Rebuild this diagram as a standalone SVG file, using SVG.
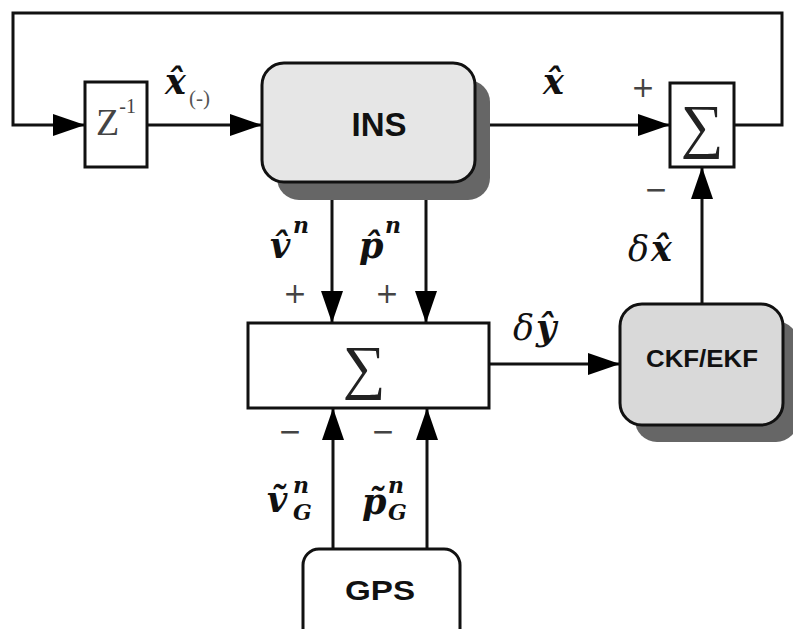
<svg xmlns="http://www.w3.org/2000/svg" width="793" height="629" viewBox="0 0 793 629">
<defs>
<marker id="arr" markerUnits="userSpaceOnUse" markerWidth="34" markerHeight="24" refX="32" refY="11" orient="auto">
<path d="M0,0 L32,11 L0,22 z" fill="#000"/>
</marker>
<style>
.ln{fill:none;stroke:#111;stroke-width:3}
.bx{stroke:#111;stroke-width:3}
.lbl{font-family:"Liberation Sans",Arial,sans-serif;font-weight:bold;fill:#111;text-anchor:middle}
.sig{font-family:"Liberation Serif","DejaVu Serif",serif;fill:#222;text-anchor:middle}
.m{font-family:"DejaVu Serif",serif;font-style:italic;font-weight:bold;fill:#111}
.d{font-family:"DejaVu Serif",serif;font-style:italic;font-weight:normal;fill:#111}
.r{font-family:"Liberation Serif","DejaVu Serif",serif;font-style:normal;font-weight:normal;fill:#555}
.pm{font-family:"DejaVu Sans",sans-serif;fill:#444;text-anchor:middle;font-size:28px}
</style>
</defs>
<rect width="793" height="629" fill="#fff"/>
<g id="connectors">
<path class="ln" d="M734,125 H782 V13 H13 V125 H85" marker-end="url(#arr)"/>
<path class="ln" d="M147,125 H262" marker-end="url(#arr)"/>
<path class="ln" d="M475,125 H670" marker-end="url(#arr)"/>
<path class="ln" d="M332,182 V323" marker-end="url(#arr)"/>
<path class="ln" d="M426,182 V323" marker-end="url(#arr)"/>
<path class="ln" d="M333,549 V408" marker-end="url(#arr)"/>
<path class="ln" d="M427,549 V408" marker-end="url(#arr)"/>
<path class="ln" d="M489,364 H620" marker-end="url(#arr)"/>
<path class="ln" d="M702,303 V167" marker-end="url(#arr)"/>
</g>
<g id="z">
<rect class="bx" x="85" y="82" width="62" height="85" fill="#fff"/>
<text x="96" y="135" font-family="Liberation Serif,serif" font-size="38" fill="#444">Z<tspan font-size="20" dy="-22">-1</tspan></text>
</g>
<g id="ins">
<rect x="277" y="80" width="213" height="120" rx="22" fill="#666"/>
<rect class="bx" x="262" y="63" width="213" height="119" rx="22" fill="#e6e6e6"/>
<text class="lbl" x="379" y="136" font-size="33">INS</text>
</g>
<g id="sum1">
<rect class="bx" x="670" y="83" width="64" height="84" fill="#fff"/>
<text class="sig" x="702" y="146" font-size="60">∑</text>
</g>
<g id="sum2">
<rect class="bx" x="248" y="323" width="241" height="85" fill="#fff"/>
<text class="sig" x="364" y="387" font-size="60">∑</text>
</g>
<g id="ckf">
<rect x="635" y="321" width="163" height="121" rx="22" fill="#666"/>
<rect class="bx" x="620" y="304" width="163" height="121" rx="22" fill="#d9d9d9"/>
<text class="lbl" x="702" y="367" font-size="23" textLength="112" lengthAdjust="spacingAndGlyphs">CKF/EKF</text>
</g>
<g id="gps">
<rect class="bx" x="303" y="549" width="157" height="100" rx="16" fill="#fff"/>
<text class="lbl" x="380" y="600" font-size="28" textLength="70" lengthAdjust="spacingAndGlyphs">GPS</text>
</g>
<g id="labels">
<text class="m" x="165" y="94" font-size="35">x̂<tspan class="r" x="189" y="105" font-size="21">(-)</tspan></text>
<text class="m" x="543" y="94" font-size="35">x̂</text>
<text class="pm" x="643" y="97">+</text>
<text class="pm" x="656" y="199">−</text>
<text x="628" y="261" font-size="35"><tspan class="d">δ</tspan><tspan class="m" x="651">x̂</tspan></text>
<text x="513" y="340" font-size="35"><tspan class="d">δ</tspan><tspan class="m" x="536">ŷ</tspan></text>
<text class="m" x="270" y="258" font-size="35">v̂<tspan font-size="22" x="293" y="233">n</tspan></text>
<text class="m" x="359" y="258" font-size="35">p̂<tspan font-size="22" x="385" y="233">n</tspan></text>
<text class="pm" x="295" y="303">+</text>
<text class="pm" x="387" y="303">+</text>
<text class="pm" x="290" y="441">−</text>
<text class="pm" x="383" y="441">−</text>
<text class="m" x="267" y="512" font-size="35">ṽ<tspan font-size="22" x="293" y="493">n</tspan><tspan font-size="22" x="293" y="520">G</tspan></text>
<text class="m" x="362" y="514" font-size="35">p̃<tspan font-size="22" x="388" y="493">n</tspan><tspan font-size="22" x="388" y="520">G</tspan></text>
</g>
</svg>
